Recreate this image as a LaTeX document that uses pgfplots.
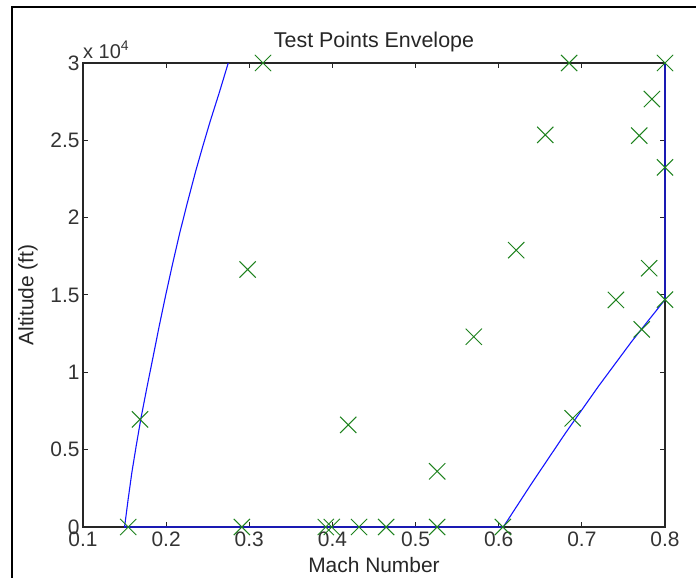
\documentclass[border=0pt]{standalone}
\usepackage{fontspec}
\setmainfont{Liberation Sans}
\usepackage{pgfplots}
\pgfplotsset{compat=1.18}
\definecolor{mlgreen}{RGB}{30,130,30}
\definecolor{mlblue}{RGB}{20,20,255}
\begin{document}
\begin{tikzpicture}[x=1bp,y=1bp]
\path[use as bounding box] (-83,-51) rectangle (613,527);
% frame of the figure window (left and top edges only visible)
\draw[line width=2.2bp] (-71,-51) -- (-71,520) -- (613,520);
\begin{axis}[
  at={(0,0)}, anchor=south west,
  scale only axis,
  width=582bp, height=464bp,
  xmin=0.1, xmax=0.8,
  ymin=0, ymax=30000,
  clip=false,
  xtick={0.1,0.2,0.3,0.4,0.5,0.6,0.7,0.8},
  xticklabels={0.1,0.2,0.3,0.4,0.5,0.6,0.7,0.8},
  ytick={0,5000,10000,15000,20000,25000,30000},
  yticklabels={0,0.5,1,1.5,2,2.5,3},
  scaled y ticks=false,
  tick align=inside,
  major tick length=5bp,
  axis line style={black!85, line width=1.1bp},
  tick style={black!85, line width=1bp},
  tick label style={font=\fontsize{21}{21}\selectfont, text=black!80},
  yticklabel style={xshift=0bp},
  xticklabel style={yshift=-1bp},
  title={Test Points Envelope},
  title style={at={(axis description cs:0.5,1.0496)}, anchor=center, yshift=-8bp, font=\fontsize{21.5}{21.5}\selectfont, text=black!85},
  xlabel={Mach Number},
  xlabel style={at={(axis description cs:0.5,-0.0819)}, anchor=center, font=\fontsize{21}{21}\selectfont, text=black!85},
  ylabel={Altitude (ft)},
  ylabel style={at={(axis description cs:-0.0945,0.5)}, anchor=center, font=\fontsize{21}{21}\selectfont, text=black!85},
]
% envelope
\addplot[mlblue, line width=1.1bp] coordinates {
  (0.2747,30000) (0.2640,28100) (0.2528,26200) (0.2440,24600)
  (0.2355,23000) (0.2257,21000) (0.2163,19000) (0.2077,17000)
  (0.1995,15000) (0.1917,13000) (0.1843,11000) (0.1768,9000)
  (0.1696,7000) (0.1640,5250) (0.1587,3500) (0.1542,1750)
  (0.1500,0) (0.6055,0) (0.64,2850) (0.68,6050) (0.72,9100)
  (0.76,12000) (0.80,14700) (0.80,30000)
};
% test points
\addplot[only marks, mark=x, mark size=11.5bp, mlgreen, line width=1bp] coordinates {
  (0.1544,0) (0.1686,6960) (0.3165,30000) (0.298,16650) (0.291,0)
  (0.392,0) (0.3992,0) (0.419,6600) (0.432,0) (0.4646,0) (0.526,0)
  (0.526,3600) (0.605,0) (0.689,7030) (0.570,12300) (0.621,17900)
  (0.656,25350) (0.6846,30000) (0.8,30000) (0.7843,27670) (0.769,25300)
  (0.8,23250) (0.781,16730) (0.741,14680) (0.8,14700) (0.772,12780)
};
\node[anchor=south west, inner sep=0pt, font=\fontsize{20}{20}\selectfont, text=black!80]
  at (axis description cs:0,1.009) {x 10\textsuperscript{4}};
\end{axis}
\end{tikzpicture}
\end{document}
